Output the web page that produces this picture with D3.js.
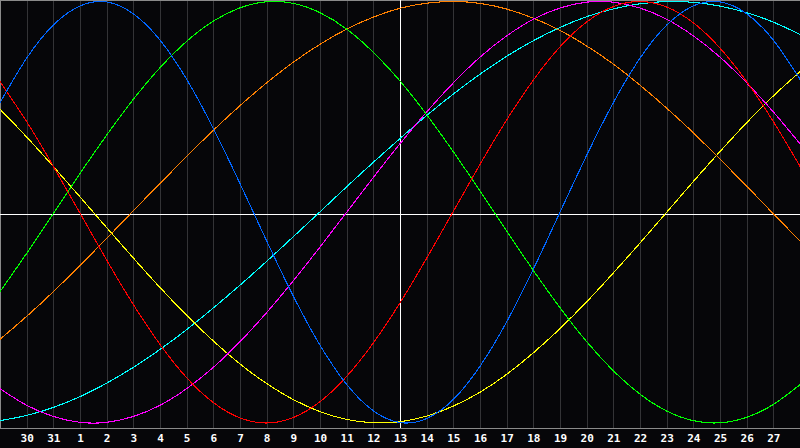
<!DOCTYPE html>
<html>
<head>
<meta charset="utf-8">
<script src="https://cdn.jsdelivr.net/npm/d3@7"></script>
<style>
  html, body { margin: 0; padding: 0; background: #060609; overflow: hidden; }
  svg { display: block; }
  .tick-label { font-family: 'DejaVu Sans Mono', monospace; font-weight: bold; font-size: 11px; fill: #fff; }
</style>
</head>
<body>
<svg id="canvas" width="800" height="448"></svg>
<script>
// day index 0..30 (day 29 of previous month .. day 28)
var days = [29, 30, 31, 1, 2, 3, 4, 5, 6, 7, 8, 9, 10, 11, 12, 13, 14, 15, 16, 17, 18, 19, 20, 21, 22, 23, 24, 25, 26, 27, 28];
var todayIndex = 15;

// curve values in percent, one per day
var physical     = [52.0, 73.1, 88.8, 97.9, 99.8, 94.2, 81.7, 63.1, 39.8, 13.6, -13.6, -39.8, -63.1, -81.7, -94.2, -99.8, -97.9, -88.8, -73.1, -52.0, -27.0, 0, 27.0, 52.0, 73.1, 88.8, 97.9, 99.8, 94.2, 81.7, 63.1];
var intellectual = [-37.7, -19.5, -0.6, 18.4, 36.6, 53.6, 68.6, 81.1, 90.7, 97.0, 99.9, 99.1, 94.7, 86.9, 75.9, 62.3, 46.3, 28.7, 10.1, -8.9, -27.6, -45.3, -61.4, -75.2, -86.3, -94.3, -98.9, -99.9, -97.3, -91.2, -81.8];
var awareness    = [-60.3, -49.4, -37.7, -25.2, -12.4, 0.7, 13.7, 26.5, 38.9, 50.6, 61.4, 71.2, 79.7, 86.9, 92.6, 96.8, 99.2, 100, 99.1, 96.4, 92.1, 86.3, 78.9, 70.3, 60.3, 49.4, 37.7, 25.2, 12.4, -0.7, -13.7];
var emotional    = [62.0, 43.0, 21.8, -0.4, -22.7, -43.8, -62.7, -78.5, -90.3, -97.6, -100, -97.4, -89.9, -77.9, -62.0, -43.0, -21.8, 0.4, 22.7, 43.8, 62.7, 78.5, 90.3, 97.6, 100, 97.4, 89.9, 77.9, 62.0, 43.0, 21.8];
var intuitive    = [-83.7, -91.6, -96.9, -99.7, -99.7, -96.9, -91.6, -83.7, -73.6, -61.4, -47.6, -32.5, -16.5, 0, 16.5, 32.5, 47.6, 61.4, 73.6, 83.7, 91.6, 96.9, 99.7, 99.7, 96.9, 91.6, 83.7, 73.6, 61.4, 47.6, 32.5];
var spiritual    = [-98.9, -96.4, -92.6, -87.5, -81.1, -73.6, -65.1, -55.7, -45.4, -34.6, -23.3, -11.6, 0.2, 12.1, 23.7, 35.0, 45.9, 56.1, 65.5, 74.0, 81.4, 87.7, 92.8, 96.5, 98.9, 100, 99.6, 97.8, 94.7, 90.2, 84.4];
var aesthetic    = [48.9, 35.7, 21.7, 7.3, -7.3, -21.7, -35.7, -48.9, -61.1, -72.0, -81.3, -88.9, -94.6, -98.3, -99.9, -99.4, -96.7, -92.0, -85.4, -76.9, -66.7, -55.2, -42.5, -28.8, -14.6, 0, 14.6, 28.8, 42.5, 55.2, 66.7];

var seriesNames  = ['spiritual', 'aesthetic', 'awareness', 'intuitive', 'intellectual', 'emotional', 'physical'];
var seriesValues = [spiritual, aesthetic, awareness, intuitive, intellectual, emotional, physical];
var seriesColors = ['#00ffff', '#ffff00', '#ff8000', '#ff00ff', '#00ff00', '#ff0000', '#0066ff'];

var width = 800, plotBottom = 428;
var svg = d3.select('#canvas');

var xScale = d3.scaleLinear().domain([0, days.length - 1]).range([0, width]);
var yScale = d3.scaleLinear().domain([-100, 100]).range([423, 1.5]);

// background
svg.append('rect').attr('x', 0).attr('y', 0).attr('width', width).attr('height', 448).style('fill', '#060609');

// grid lines, one per labelled day
var gridIdx = d3.range(1, days.length - 1);
svg.append('g').selectAll('line').data(gridIdx).enter().append('line')
  .attr('x1', d => Math.round(xScale(d)) + 0.5).attr('x2', d => Math.round(xScale(d)) + 0.5)
  .attr('y1', 0).attr('y2', plotBottom)
  .style('stroke', '#333336').style('stroke-width', 1);

// frame
svg.append('line').attr('x1', 0).attr('x2', width).attr('y1', 0.5).attr('y2', 0.5).style('stroke', '#8a8a8a');
svg.append('line').attr('x1', 0.5).attr('x2', 0.5).attr('y1', 0).attr('y2', plotBottom).style('stroke', '#8a8a8a');
svg.append('line').attr('x1', 0).attr('x2', width).attr('y1', plotBottom + 0.5).attr('y2', plotBottom + 0.5).style('stroke', '#8a8a8a');

// zero line and today marker
svg.append('line').attr('x1', 0).attr('x2', width)
  .attr('y1', Math.round(yScale(0)) + 2.5).attr('y2', Math.round(yScale(0)) + 2.5)
  .style('stroke', '#ffffff').style('stroke-width', 1);
svg.append('line')
  .attr('x1', xScale(todayIndex) + 0.5).attr('x2', xScale(todayIndex) + 0.5)
  .attr('y1', 0).attr('y2', plotBottom)
  .style('stroke', '#ffffff').style('stroke-width', 1);

// curves
var lineGen = d3.line().x((d, i) => xScale(i)).y(d => yScale(d)).curve(d3.curveNatural);
svg.append('g').selectAll('path').data(seriesValues).enter().append('path')
  .attr('class', (d, i) => 'curve ' + seriesNames[i])
  .attr('d', d => lineGen(d))
  .style('fill', 'none')
  .style('stroke', (d, i) => seriesColors[i])
  .style('stroke-width', 1.1)
  .style('shape-rendering', 'crispEdges');

// day labels
svg.append('g').selectAll('text').data(gridIdx).enter().append('text')
  .attr('class', 'tick-label')
  .attr('x', d => xScale(d) + 0.5)
  .attr('y', 442)
  .attr('text-anchor', 'middle')
  .text(d => days[d]);
</script>
</body>
</html>
